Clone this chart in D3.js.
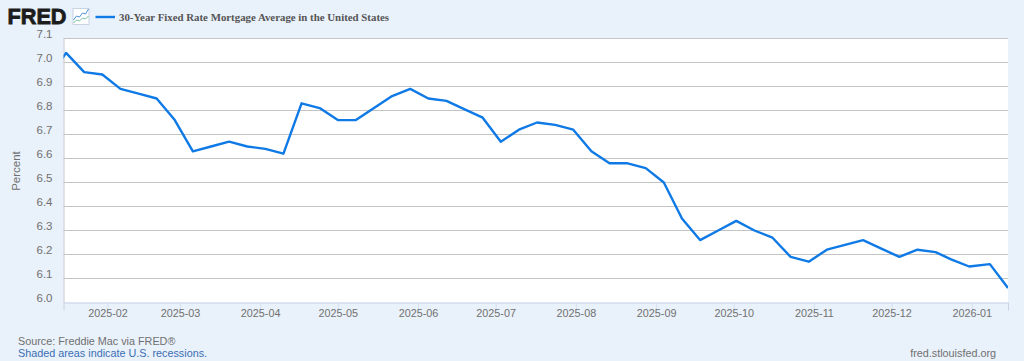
<!DOCTYPE html>
<html>
<head>
<meta charset="utf-8">
<script src="https://cdn.jsdelivr.net/npm/d3@7"></script>
<style>
  html, body { margin: 0; padding: 0; background: #e9f1fa; }
  svg { display: block; }
</style>
</head>
<body>
<div id="chart"></div>
<script>
// --------------------------------------
// Data
// --------------------------------------

const title = "30-Year Fixed Rate Mortgage Average in the United States";
const dates = [
  "2025-01-09","2025-01-16","2025-01-23","2025-01-30","2025-02-06","2025-02-13","2025-02-20","2025-02-27",
  "2025-03-06","2025-03-13","2025-03-20","2025-03-27","2025-04-03","2025-04-10","2025-04-17","2025-04-24",
  "2025-05-01","2025-05-08","2025-05-15","2025-05-22","2025-05-29","2025-06-05","2025-06-12","2025-06-18",
  "2025-06-26","2025-07-03","2025-07-10","2025-07-17","2025-07-24","2025-07-31","2025-08-07","2025-08-14",
  "2025-08-21","2025-08-28","2025-09-04","2025-09-11","2025-09-18","2025-09-25","2025-10-02","2025-10-09",
  "2025-10-16","2025-10-23","2025-10-30","2025-11-06","2025-11-13","2025-11-20","2025-11-26","2025-12-04",
  "2025-12-11","2025-12-18","2025-12-24","2025-12-31","2026-01-08","2026-01-15"
];
const rates = [
  6.93,7.04,6.96,6.95,6.89,6.87,6.85,6.76,
  6.63,6.65,6.67,6.65,6.64,6.62,6.83,6.81,
  6.76,6.76,6.81,6.86,6.89,6.85,6.84,6.81,
  6.77,6.67,6.72,6.75,6.74,6.72,6.63,6.58,
  6.58,6.56,6.50,6.35,6.26,6.30,6.34,6.30,
  6.27,6.19,6.17,6.22,6.24,6.26,6.23,6.19,
  6.22,6.21,6.18,6.15,6.16,6.06
];
const xTicks = ["2025-02-01","2025-03-01","2025-04-01","2025-05-01","2025-06-01","2025-07-01",
  "2025-08-01","2025-09-01","2025-10-01","2025-11-01","2025-12-01","2026-01-01"];
const yTicks = [6.0,6.1,6.2,6.3,6.4,6.5,6.6,6.7,6.8,6.9,7.0,7.1];

// --------------------------------------
// Canvas
// --------------------------------------

const width = 1024, height = 361;
const plot = { left: 63.5, right: 1008, top: 38.5, bottom: 302.5 };
const parse = d3.utcParse("%Y-%m-%d");
const sans = "Liberation Sans, Arial, sans-serif";

const svg = d3.select("#chart")
  .append("svg")
    .attr("width", width)
    .attr("height", height)
    .attr("viewBox", [0, 0, width, height]);

svg.append("rect")
    .attr("width", width)
    .attr("height", height)
    .attr("fill", "#e9f1fa");

svg.append("rect")
    .attr("x", plot.left)
    .attr("y", plot.top)
    .attr("width", plot.right - plot.left)
    .attr("height", plot.bottom - plot.top)
    .attr("fill", "#fff");

// --------------------------------------
// Scales
// --------------------------------------

const x = d3.scaleUtc([parse("2025-01-15"), parse("2026-01-15")], [plot.left, plot.right]);
const y = d3.scaleLinear([6.0, 7.1], [plot.bottom, plot.top]);

// --------------------------------------
// Axes
// --------------------------------------

const yAxis = svg.append("g")
    .attr("transform", `translate(${plot.left},0)`)
    .call(d3.axisLeft(y)
      .tickValues(yTicks)
      .tickFormat(d3.format(".1f"))
      .tickSize(0)
      .tickPadding(11));
yAxis.select(".domain").attr("stroke", "#c8c8d0");
yAxis.selectAll("text")
    .attr("y", -5)
    .attr("font-family", sans)
    .attr("font-size", 11.5)
    .attr("fill", "#707070");

svg.append("g")
  .selectAll("line")
  .data(yTicks.filter(d => d > 6.0))
  .join("line")
    .attr("x1", plot.left)
    .attr("x2", plot.right)
    .attr("y1", d => y(d))
    .attr("y2", d => y(d))
    .attr("stroke", "#c4c4c4")
    .attr("stroke-width", 1.2);

const xAxis = svg.append("g")
    .attr("transform", `translate(0,${plot.bottom})`)
    .call(d3.axisBottom(x)
      .tickValues(xTicks.map(parse))
      .tickFormat(d3.utcFormat("%Y-%m"))
      .tickSize(8)
      .tickPadding(-1));
xAxis.select(".domain").attr("stroke", "#c8d3e3");
xAxis.selectAll("line").attr("stroke", "#d6e0f0");
xAxis.selectAll("text")
    .attr("font-family", sans)
    .attr("font-size", 10.8)
    .attr("fill", "#707070");

svg.append("text")
    .attr("transform", "translate(20,171) rotate(-90)")
    .attr("text-anchor", "middle")
    .attr("font-family", sans)
    .attr("font-size", 11.5)
    .attr("fill", "#707070")
    .text("Percent");

// --------------------------------------
// Line
// --------------------------------------

svg.append("clipPath")
    .attr("id", "plot-clip")
  .append("rect")
    .attr("x", plot.left)
    .attr("y", plot.top)
    .attr("width", plot.right - plot.left)
    .attr("height", plot.bottom - plot.top);

const line = d3.line()
    .x((d, i) => x(parse(dates[i])))
    .y(d => y(d));

svg.append("path")
    .attr("clip-path", "url(#plot-clip)")
    .attr("d", line(rates))
    .attr("fill", "none")
    .attr("stroke", "#0f7ae5")
    .attr("stroke-width", 2.4)
    .attr("stroke-linejoin", "round");

// --------------------------------------
// Header
// --------------------------------------

svg.append("text")
    .attr("x", 7.5)
    .attr("y", 24)
    .attr("font-family", sans)
    .attr("font-weight", 700)
    .attr("font-size", 22)
    .attr("fill", "#1c1c1c")
    .attr("stroke", "#1c1c1c")
    .attr("stroke-width", 0.8)
    .attr("textLength", 59)
    .attr("lengthAdjust", "spacingAndGlyphs")
    .text("FRED");

const icon = svg.append("g").attr("transform", "translate(72.5,8)");
icon.append("rect")
    .attr("x", 0.5).attr("y", 0.5)
    .attr("width", 16).attr("height", 16)
    .attr("fill", "#fff")
    .attr("stroke", "#c9d4e2");
icon.append("path")
    .attr("d", "M1,12L4,8L7,9L10,5L13,6L16,1")
    .attr("fill", "none").attr("stroke", "#4a90d9");
icon.append("path")
    .attr("d", "M1,15L4,12L7,13L10,10L13,11L16,8")
    .attr("fill", "none").attr("stroke", "#79c2a5");

svg.append("line")
    .attr("x1", 95.5).attr("x2", 115)
    .attr("y1", 17).attr("y2", 17)
    .attr("stroke", "#0f7ae5")
    .attr("stroke-width", 2.4);

svg.append("text")
    .attr("x", 119)
    .attr("y", 20.5)
    .attr("font-family", "Liberation Serif, Times New Roman, serif")
    .attr("font-weight", 700)
    .attr("font-size", 10.85)
    .attr("fill", "#555")
    .text(title);

// --------------------------------------
// Footer
// --------------------------------------

const footer = svg.append("g")
    .attr("font-family", sans)
    .attr("font-size", 10.8);
footer.append("text").attr("x", 18).attr("y", 345).attr("fill", "#707070")
    .text("Source: Freddie Mac via FRED\u00AE");
footer.append("text").attr("x", 18).attr("y", 357).attr("fill", "#3a6eb5")
    .text("Shaded areas indicate U.S. recessions.");
footer.append("text").attr("x", 996).attr("y", 357).attr("fill", "#707070")
    .attr("text-anchor", "end")
    .text("fred.stlouisfed.org");
</script>
</body>
</html>
